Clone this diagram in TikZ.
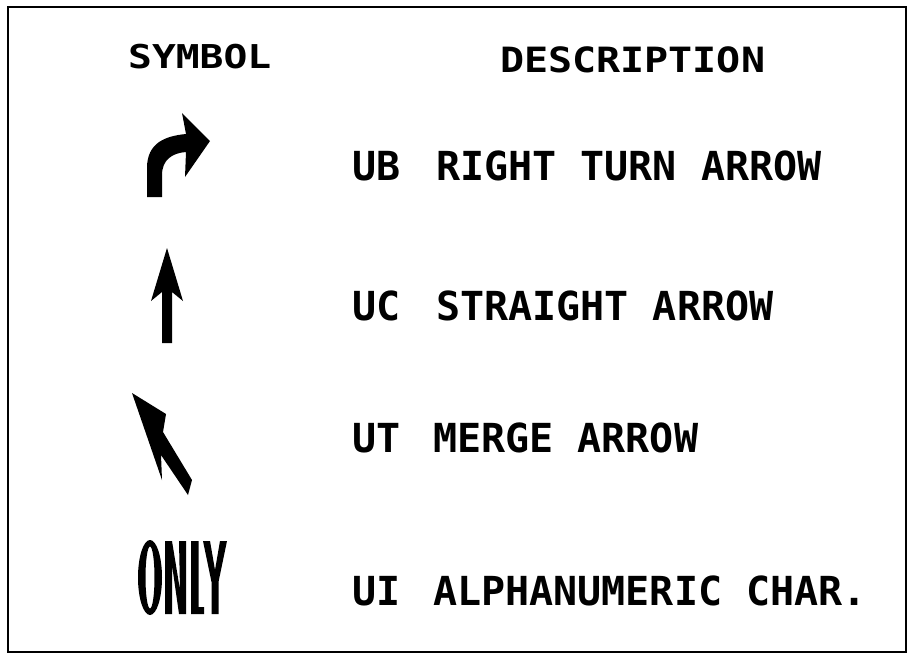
\documentclass[tikz,border=0pt]{standalone}
\usepackage{fontspec}
\usepackage{graphicx}
\newfontfamily\monofont{DejaVu Sans Mono}
\tikzset{
  txt/.style={anchor=base west, inner sep=0pt, font=\monofont\bfseries\fontsize{40}{40}\selectfont},
  hdr/.style={anchor=base west, inner sep=0pt, font=\monofont\bfseries\fontsize{40}{40}\selectfont},
  sym/.style={fill=black, draw=none}
}
\begin{document}
\begin{tikzpicture}[x=1pt,y=-1pt]
\useasboundingbox (0,0) rectangle (914,659);
\draw[line width=2pt] (8,7) rectangle (906,652);
% headers
\node[hdr] (hsym) at (128,68) {\scalebox{0.99}[0.82]{SYMBOL}};
\node[hdr] (hdesc) at (500,72) {\scalebox{1.0}[0.87]{DESCRIPTION}};
% descriptions
\node[txt] (cUB) at (352,180) {UB};
\node[txt] (dUB) at (436,180) {RIGHT TURN ARROW};
\node[txt] (cUC) at (352,320) {UC};
\node[txt] (dUC) at (436,320) {STRAIGHT ARROW};
\node[txt] (cUT) at (352,452) {UT};
\node[txt] (dUT) at (433,452) {MERGE ARROW};
\node[txt] (cUI) at (352,605) {UI};
\node[txt] (dUI) at (433,605) {ALPHANUMERIC CHAR.};
% right turn arrow
\fill[sym] (147,197) -- (147,168) .. controls (147,143) and (165,136) .. (186,134)
  -- (182,113) -- (210,141) -- (185,177) -- (186,152)
  .. controls (172,153) and (162,160) .. (162,175) -- (162,197) -- cycle;
% straight arrow
\fill[sym] (162,343) -- (162,292) -- (151,301) -- (167,248) -- (183,301) -- (172,292) -- (172,343) -- cycle;
% merge arrow
\fill[sym] (132,393) -- (166,414) -- (163,432) -- (192,480) -- (188,495) -- (161,455) -- (162,480) -- cycle;
% ONLY
\fill[sym, even odd rule] (150,577.5) ellipse [x radius=12, y radius=37.5]
  (150,577.5) ellipse [x radius=4.5, y radius=31];
\fill[sym] (165,541) -- (172,541) -- (180,590) -- (179,541) -- (186,541) -- (186,614) -- (179,614) -- (172,565) -- (172,614) -- (165,614) -- cycle;
\fill[sym] (191,541) -- (198.5,541) -- (198.5,607) -- (204,607) -- (204,614) -- (191,614) -- cycle;
\fill[sym] (203,541) -- (210,541) -- (215,570) -- (220,541) -- (227,541) -- (218.5,582) -- (218.5,614) -- (211.5,614) -- (211.5,582) -- cycle;
\end{tikzpicture}
\end{document}
